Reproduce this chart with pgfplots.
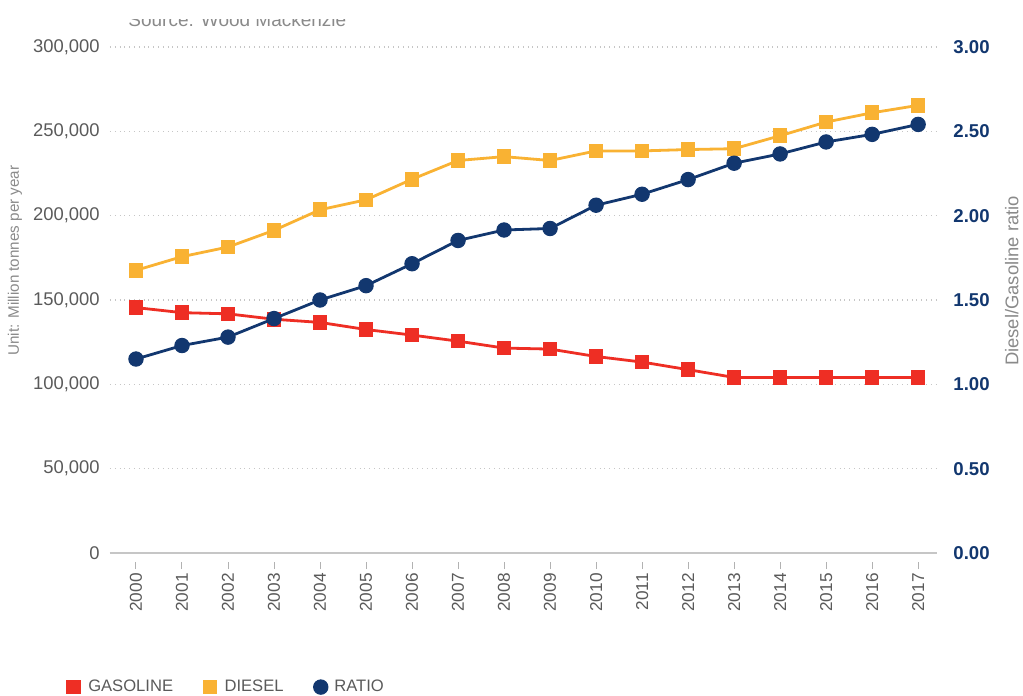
\documentclass[border=0pt]{standalone}
\usepackage{pgfplots}
\pgfplotsset{compat=1.18}
\usepackage{fontspec}
\setmainfont{Liberation Sans}
\definecolor{gasred}{HTML}{EE2E24}
\definecolor{dieselyel}{HTML}{F9B233}
\definecolor{ratnavy}{HTML}{12376F}
\definecolor{txtgray}{HTML}{5A5A5A}
\definecolor{lblgray}{HTML}{8A8A8A}

\pgfplotstableread{
year gasoline diesel ratio
2000 145500 167600 1.150
2001 142500 175700 1.230
2002 141800 181400 1.280
2003 138600 191300 1.390
2004 136700 203500 1.500
2005 132500 209400 1.585
2006 129200 221600 1.715
2007 125600 232700 1.853
2008 121500 235000 1.915
2009 120900 232700 1.924
2010 116500 238400 2.062
2011 113200 238400 2.127
2012 108700 239200 2.214
2013 104100 239700 2.311
2014 104100 247400 2.366
2015 104100 255500 2.437
2016 104100 261000 2.482
2017 104100 265400 2.541
}\datatable

\pgfplotsset{
  common/.style={
    scale only axis,
    width=413.5pt, height=253pt,
    xmin=1999.435, xmax=2017.41,
    at={(0pt,0pt)}, anchor=south west,
    /pgf/number format/assume math mode=true,
  }
}

\begin{document}
\begin{tikzpicture}
\useasboundingbox (-55pt,-71.5pt) rectangle (456.5pt,276.5pt);

\begin{axis}[
  common,
  ymin=0, ymax=300000,
  ytick={0,50000,...,300000},
  scaled y ticks=false,
  yticklabel style={/pgf/number format/fixed, /pgf/number format/1000 sep={,},
    font=\fontsize{9.2}{11}\selectfont, text=txtgray, anchor=east, inner sep=0pt, xshift=-1.5pt},
  xtick={2000,2001,...,2017},
  xticklabel style={/pgf/number format/1000 sep={}, rotate=90, anchor=east,
    font=\fontsize{8.6}{10}\selectfont, text=txtgray, inner sep=0pt},
  xticklabel shift=6.5pt,
  ytick style={draw=none},
  xtick style={draw=gray!60, line width=0.5pt, yshift=-4.5pt},
  major tick length=3.5pt,
  tick align=outside,
  axis x line*=bottom, axis y line*=left,
  x axis line style={-, draw=gray!45, line width=0.6pt},
  y axis line style={draw=none},
  ymajorgrids,
  grid style={dotted, draw=gray!45, line width=0.6pt},
  ylabel={Unit: Million tonnes per year},
  ylabel style={at={(axis description cs:-0.115,0.578)}, anchor=center,
    font=\fontsize{7.6}{9}\selectfont, text=lblgray},
  legend columns=3,
  legend style={at={(axis description cs:-0.0599,-0.265)}, anchor=west, draw=none, fill=none,
    font=\fontsize{8.3}{10}\selectfont, text=txtgray,
    /tikz/every even column/.append style={column sep=13pt}},
  legend image code/.code={\draw[#1] plot coordinates {(3.4pt,0pt)}; \path (8pt,0pt);},
]
\addplot[gasred, line width=1.4pt, mark=square*, mark size=3.4pt, mark options={solid, line width=0.5pt}]
  table[x=year, y=gasoline] {\datatable};
\addlegendentry{GASOLINE}
\addplot[dieselyel, line width=1.4pt, mark=square*, mark size=3.4pt, mark options={solid, line width=0.5pt}]
  table[x=year, y=diesel] {\datatable};
\addlegendentry{DIESEL}
\addlegendimage{only marks, ratnavy, mark=*, mark size=3.6pt, mark options={line width=0.5pt}}
\addlegendentry{RATIO}
\end{axis}

\begin{axis}[
  common,
  ymin=0, ymax=3,
  ytick={0,0.5,...,3},
  hide x axis,
  axis y line*=right,
  y axis line style={draw=none},
  ytick style={draw=none},
  yticklabel style={/pgf/number format/fixed, /pgf/number format/fixed zerofill,
    /pgf/number format/precision=2,
    font=\fontsize{9.3}{11}\selectfont\bfseries, text=ratnavy, anchor=west, inner sep=0pt, xshift=8pt},
  ylabel={Diesel/Gasoline ratio},
  ylabel style={at={(axis description cs:1.0905,0.5375)}, anchor=center, rotate=0,
    font=\fontsize{9.2}{11}\selectfont, text=lblgray},
]
\addplot[ratnavy, line width=1.4pt, mark=*, mark size=3.6pt, mark options={line width=0.5pt}]
  table[x=year, y=ratio] {\datatable};
\end{axis}

\begin{scope}
\clip (0pt,240pt) rectangle (300pt,266.8pt);
\node[anchor=base west, inner sep=0pt, text=lblgray, font=\fontsize{9.5}{11}\selectfont]
  at (9pt,263pt) {Source: Wood Mackenzie};
\end{scope}
\end{tikzpicture}
\end{document}
